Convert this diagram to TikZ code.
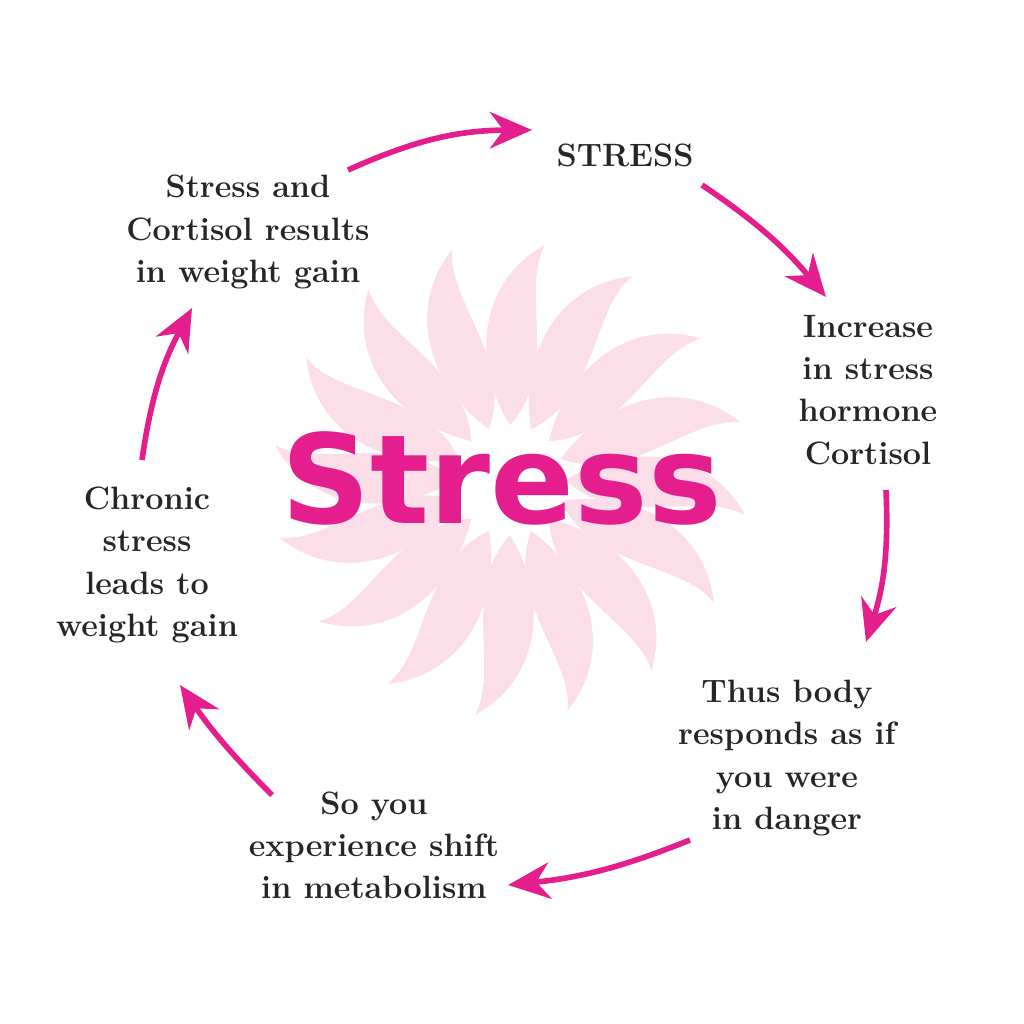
\documentclass[tikz,border=0pt]{standalone}
\usepackage{fontspec}
\usepackage{tikz}
\usetikzlibrary{arrows.meta}
\newfontfamily\bigfont{DejaVu Sans}
\definecolor{stressmagenta}{RGB}{228,30,140}
\definecolor{petalpink}{RGB}{251,222,231}
\tikzset{
  steptext/.style={font=\fontsize{23}{30}\selectfont\bfseries, align=center, text=black!85},
  cyclearrow/.style={stressmagenta, line width=4pt, -{Stealth[length=30pt,width=26pt]}}
}
\begin{document}
\begin{tikzpicture}[x=0.025cm,y=-0.025cm]

% Canvas
\useasboundingbox (0,0) rectangle (1024,1024);

% Draw the petals
\foreach \a in {0,22.5,...,337.5}
  \fill[petalpink, shift={(510,480)}, rotate=\a]
    (0,-55) .. controls (50,-110) and (10,-190) .. (35,-235)
    .. controls (-30,-200) and (-40,-120) .. cycle;

% Draw the big word
\node[font=\fontsize{88}{88}\selectfont\bigfont\bfseries, text=stressmagenta] (big) at (502,478) {Stress};

% Draw the steps
\node[steptext] (stress) at (625,155) {STRESS};
\node[steptext] (increase) at (868,390) {Increase\\in stress\\hormone\\Cortisol};
\node[steptext] (danger) at (787,758) {Thus body\\responds as if\\you were\\in danger};
\node[steptext] (shift) at (374,845) {So you\\experience shift\\in metabolism};
\node[steptext] (chronic) at (147,565) {Chronic\\stress\\leads to\\weight gain};
\node[steptext] (gain) at (248,232) {Stress and\\Cortisol results\\in weight gain};

% Draw the arrows
\coordinate (a1) at (348,170); \coordinate (b1) at (532,130);
\coordinate (a2) at (702,185); \coordinate (b2) at (826,297);
\coordinate (a3) at (886,490); \coordinate (b3) at (866,642);
\coordinate (a4) at (690,840); \coordinate (b4) at (508,885);
\coordinate (a5) at (272,795); \coordinate (b5) at (180,685);
\coordinate (a6) at (142,460); \coordinate (b6) at (192,308);
\draw[cyclearrow] (a1) to[bend left=12] (b1);
\draw[cyclearrow] (a2) to[bend left=8] (b2);
\draw[cyclearrow] (a3) to[bend left=10] (b3);
\draw[cyclearrow] (a4) to[bend left=8] (b4);
\draw[cyclearrow] (a5) to[bend left=5] (b5);
\draw[cyclearrow] (a6) to[bend left=10] (b6);

\end{tikzpicture}
\end{document}
